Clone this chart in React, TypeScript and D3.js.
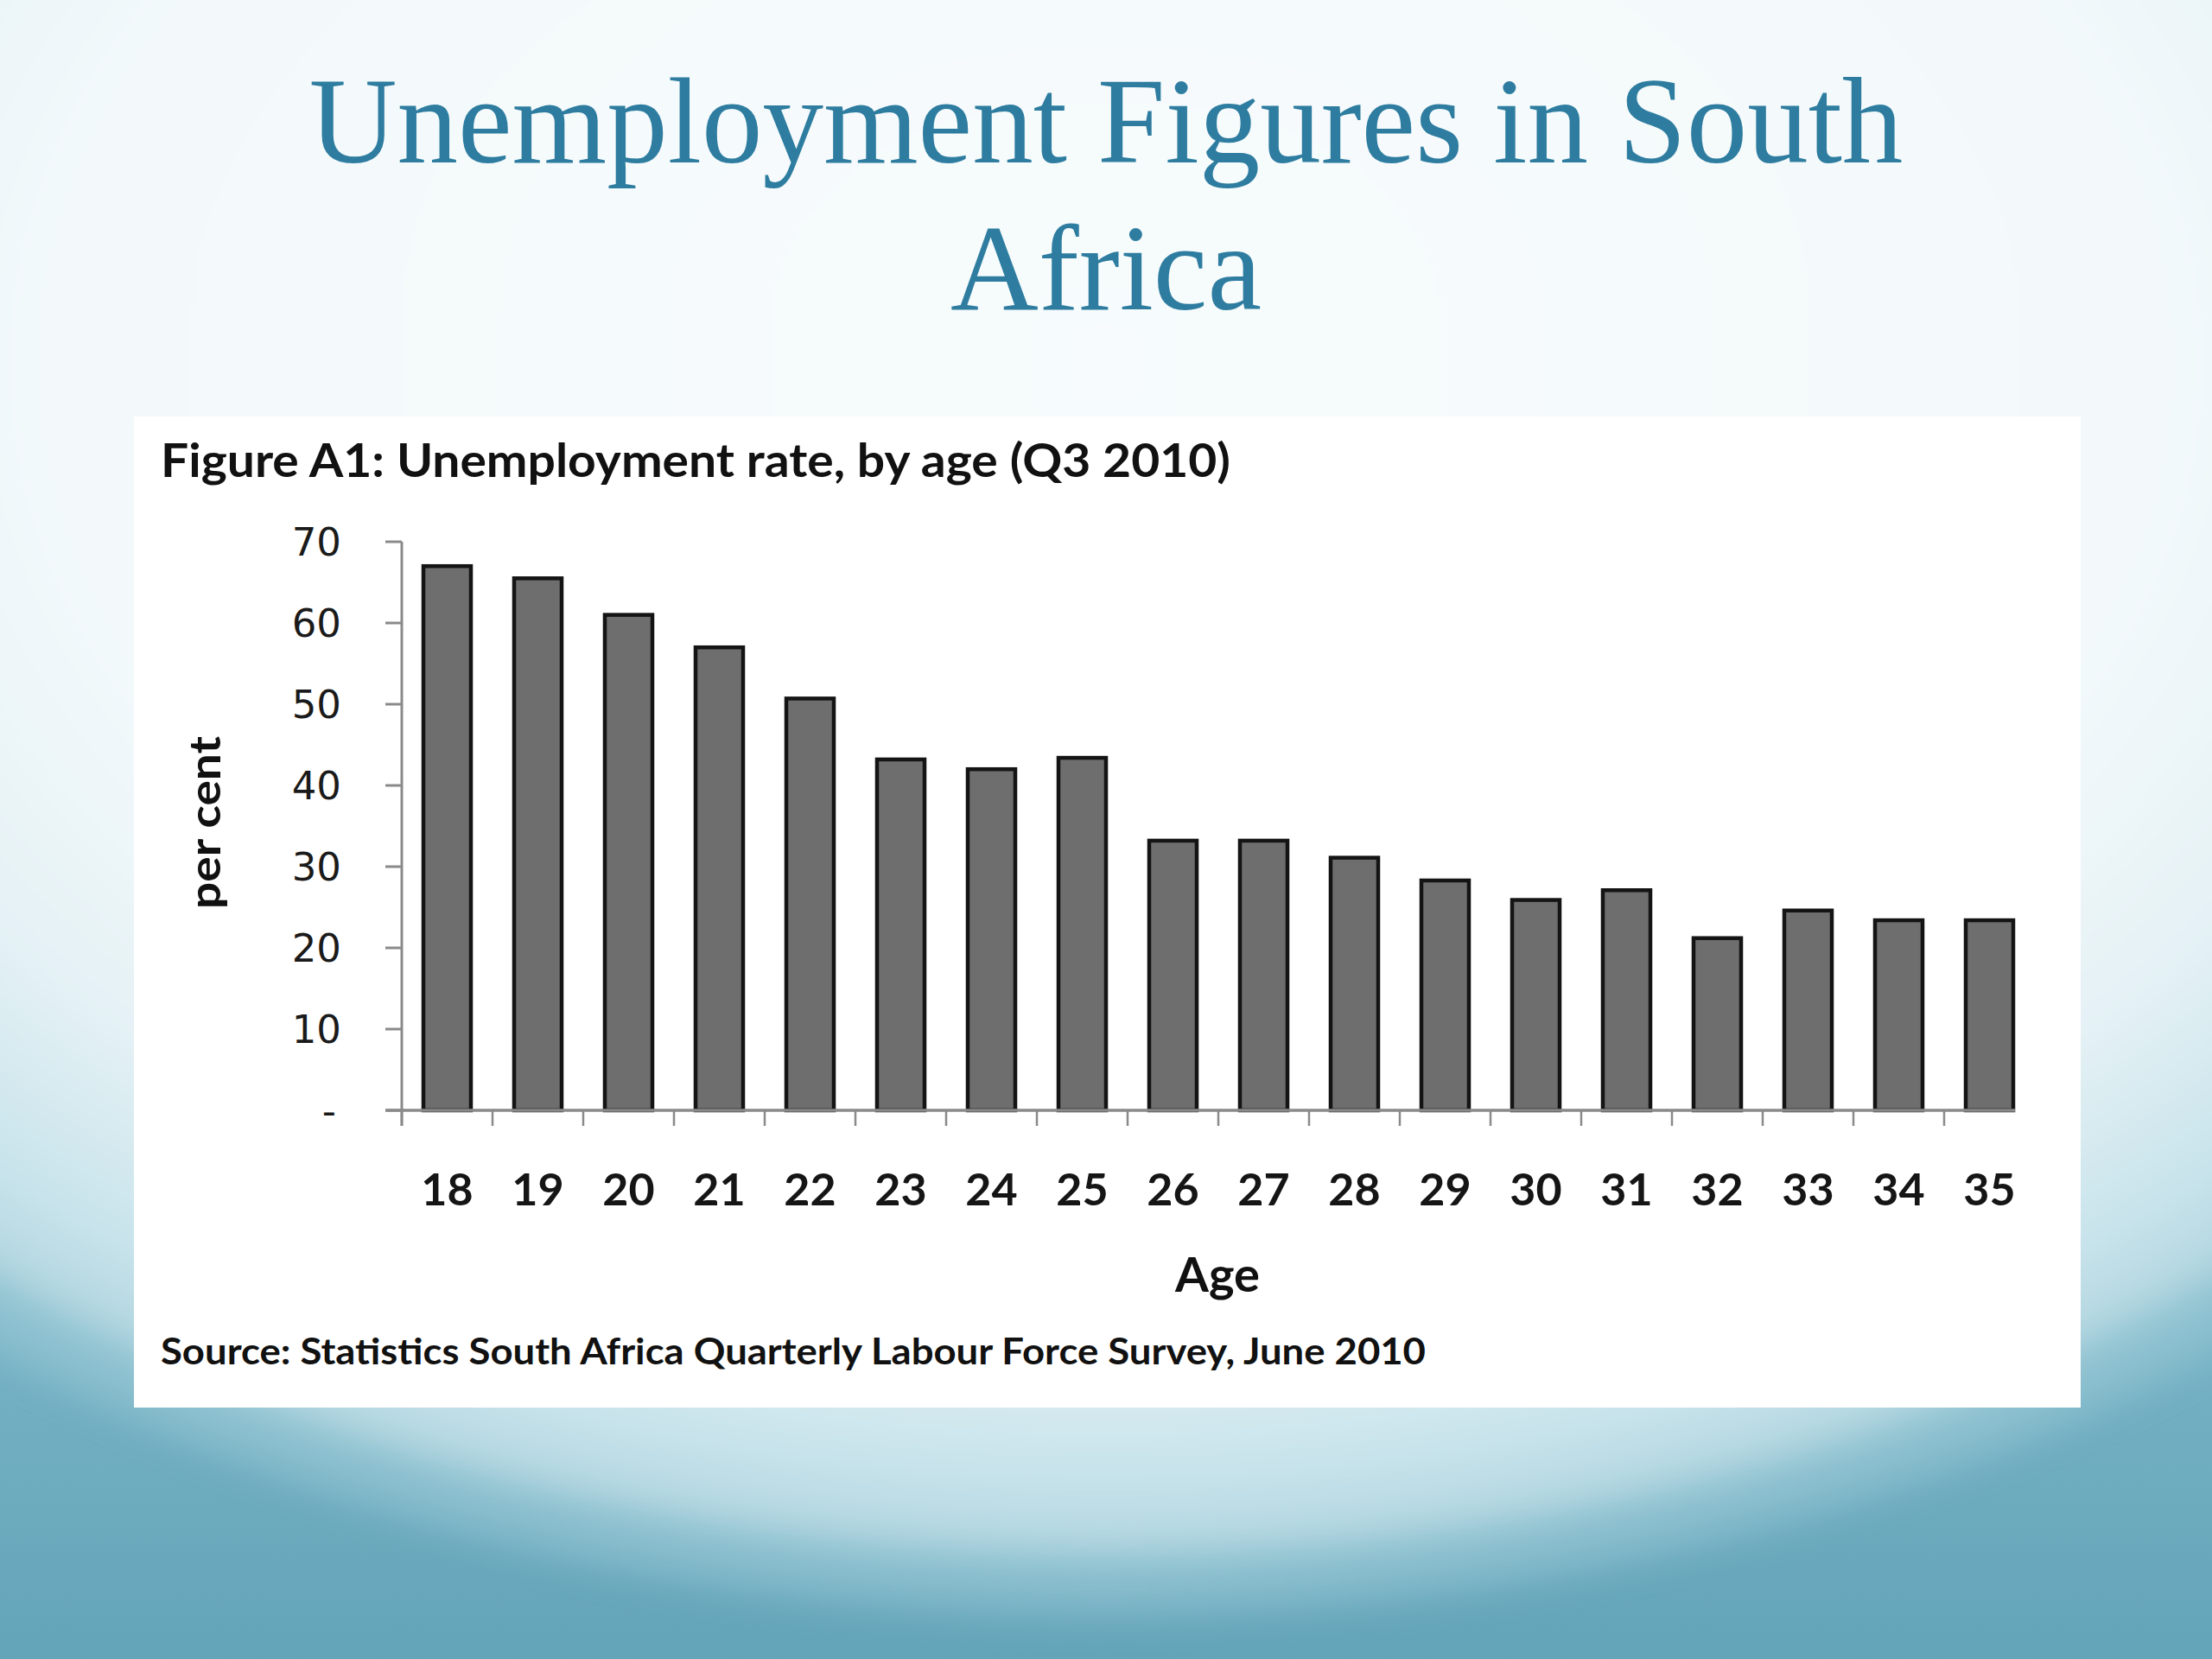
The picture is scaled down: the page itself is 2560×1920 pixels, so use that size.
import React from "react";
import * as d3 from "d3";

const ages: string[] = ["18","19","20","21","22","23","24","25","26","27","28","29","30","31","32","33","34","35"];
const rates: number[] = [67.0, 65.5, 61.0, 57.0, 50.7, 43.2, 42.0, 43.4, 33.2, 33.2, 31.1, 28.3, 25.9, 27.1, 21.2, 24.6, 23.4, 23.4];
const yTicks: number[] = [0, 10, 20, 30, 40, 50, 60, 70];
const slideTitle: string[] = ["Unemployment Figures in South", "Africa"];
const figureTitle = "Figure A1: Unemployment rate, by age (Q3 2010)";
const yLabel = "per cent";
const xLabel = "Age";
const sourceText = "Source: Statistics South Africa Quarterly Labour Force Survey, June 2010";

const W = 2560;
const H = 1920;

export default function App() {
  const plotLeft = 465;
  const plotRight = 2355;
  const base = 1285;
  const top = 627;

  const x = d3.scaleBand<string>().domain(ages).range([plotLeft, plotRight]).paddingInner(0.476).paddingOuter(0.238);
  const y = d3.scaleLinear().domain([0, 70]).range([base, top]);
  const step = x.step();
  const bw = x.bandwidth();
  const boundaries = ages.map((_, i) => plotLeft + i * step);
  const lastRight = (x(ages[ages.length - 1]) as number) + bw + 2;

  const labelFont = "Lato, 'Open Sans', sans-serif";

  return (
    <svg width={W} height={H} viewBox={`0 0 ${W} ${H}`} style={{ position: "absolute", left: 0, top: 0, display: "block" }}>
      <defs>
        <linearGradient id="outer" x1="0" y1="0" x2="0" y2="1">
          <stop offset="0" stopColor="#8ec3d2" />
          <stop offset="0.7" stopColor="#7fb9ca" />
          <stop offset="1" stopColor="#64a4b9" />
        </linearGradient>
        <radialGradient id="disk" cx="0.5" cy="0.5" r="0.5">
          <stop offset="0" stopColor="#f7fbfd" />
          <stop offset="0.62" stopColor="#f3f9fb" />
          <stop offset="0.8" stopColor="#e4f1f5" />
          <stop offset="0.93" stopColor="#c8e3eb" />
          <stop offset="1" stopColor="#b0d5df" />
        </radialGradient>
        <filter id="soft" x="-10%" y="-10%" width="120%" height="120%">
          <feGaussianBlur stdDeviation="22" />
        </filter>
      </defs>

      {/* slide background */}
      <rect x={0} y={0} width={W} height={H} fill="url(#outer)" />
      <ellipse cx={1280} cy={421} rx={2090} ry={1445} fill="#9ccbd8" opacity={0.6} filter="url(#soft)" />
      <ellipse cx={1280} cy={421} rx={2000} ry={1380} fill="url(#disk)" filter="url(#soft)" />

      {/* slide title */}
      {slideTitle.map((t, i) => (
        <text key={t} x={1280} y={188 + i * 170} textAnchor="middle" fontFamily="'Liberation Serif', 'Times New Roman', serif" fontSize={141} fill="#2e7da0">
          {t}
        </text>
      ))}

      {/* chart panel */}
      <rect x={155} y={482} width={2253} height={1147} fill="#ffffff" />

      {/* figure title */}
      <text x={186} y={552} fontFamily={labelFont} fontWeight={700} fontSize={54} fill="#111" textLength={1238} lengthAdjust="spacingAndGlyphs">
        {figureTitle}
      </text>

      {/* y axis */}
      <line x1={plotLeft} x2={plotLeft} y1={top} y2={base + 18} stroke="#8a8a8a" strokeWidth={3} />
      {yTicks.map((t) => (
        <g key={t}>
          <line x1={446} x2={plotLeft} y1={y(t)} y2={y(t)} stroke="#8a8a8a" strokeWidth={3} />
          <text x={t === 0 ? 389 : 395} y={y(t) + 16} textAnchor="end" fontFamily="'DejaVu Sans', Verdana, sans-serif" fontSize={45} fill="#1a1a1a">
            {t === 0 ? "-" : String(t)}
          </text>
        </g>
      ))}

      {/* bars */}
      {ages.map((a, i) => (
        <rect key={a} x={x(a) as number} y={y(rates[i])} width={bw} height={base - y(rates[i])} fill="#6e6e6e" stroke="#141414" strokeWidth={4.5} />
      ))}

      {/* x axis */}
      <line x1={446} x2={lastRight} y1={base} y2={base} stroke="#8a8a8a" strokeWidth={3.5} />
      {boundaries.map((bx, i) => (
        <line key={i} x1={bx} x2={bx} y1={base} y2={base + 18} stroke="#8a8a8a" strokeWidth={2.5} />
      ))}
      {ages.map((a) => (
        <text key={a} x={(x(a) as number) + bw / 2} y={1395} textAnchor="middle" fontFamily={labelFont} fontWeight={700} fontSize={52} fill="#151515">
          {a}
        </text>
      ))}

      {/* axis titles */}
      <text x={1409} y={1495} textAnchor="middle" fontFamily={labelFont} fontWeight={700} fontSize={56} fill="#111">
        {xLabel}
      </text>
      <text transform="translate(255,952) rotate(-90)" textAnchor="middle" fontFamily={labelFont} fontWeight={700} fontSize={50} fill="#111" textLength={200} lengthAdjust="spacingAndGlyphs">
        {yLabel}
      </text>

      {/* source */}
      <text x={186} y={1579} fontFamily={labelFont} fontWeight={700} fontSize={42} fill="#111" textLength={1464} lengthAdjust="spacingAndGlyphs">
        {sourceText}
      </text>
    </svg>
  );
}
